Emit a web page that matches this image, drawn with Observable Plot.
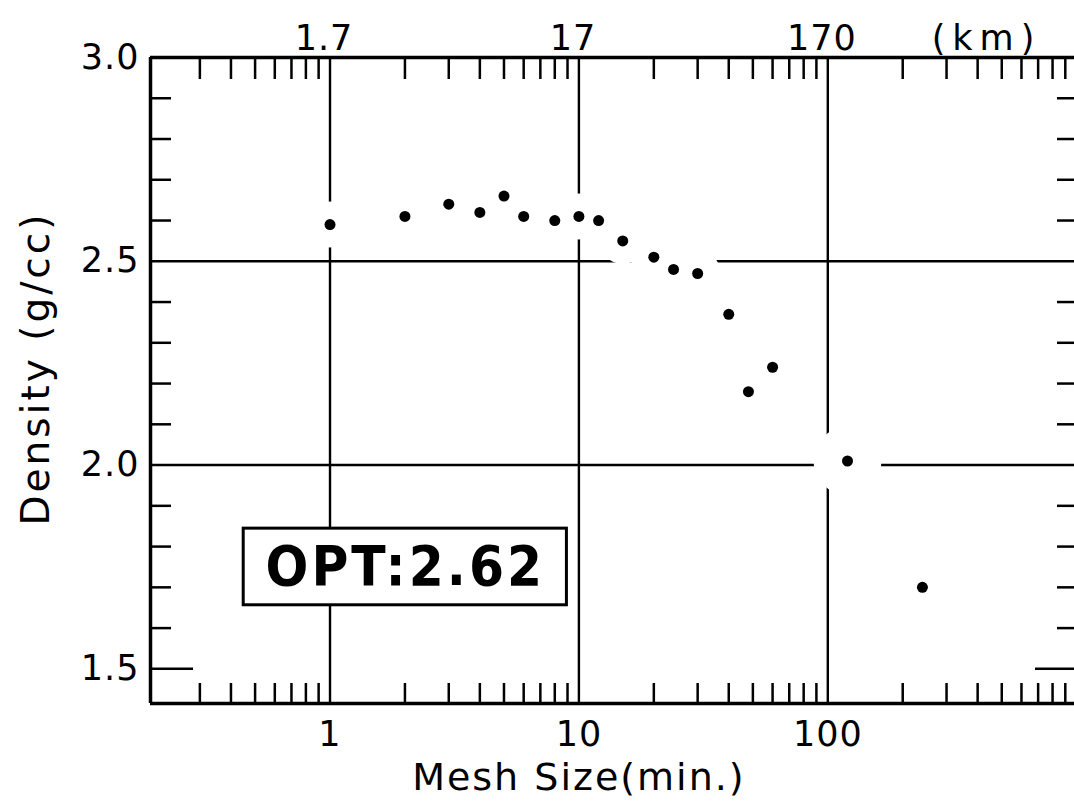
<!DOCTYPE html>
<html>
<head>
<meta charset="utf-8">
<script src="https://cdn.jsdelivr.net/npm/d3@7"></script>
<script src="https://cdn.jsdelivr.net/npm/@observablehq/plot@0.6"></script>
<style>
  html, body { margin: 0; padding: 0; background: #fff; overflow: hidden; }
  #chart svg { display: block; }
</style>
</head>
<body>
<div id="chart"></div>
<script>
// Mesh size (minutes) and the density estimated at that mesh size (g/cc)
const meshMinutes = [1, 2, 3, 4, 5, 6, 8, 10, 12, 15, 20, 24, 30, 40, 48, 60, 120, 240];
const density = [2.59, 2.61, 2.64, 2.62, 2.66, 2.61, 2.60, 2.61, 2.60, 2.55, 2.51, 2.48, 2.47, 2.37, 2.18, 2.24, 2.01, 1.70];

// Axis ticks and labels
const minuteTicks = [1, 10, 100];
const minuteLabels = ["1", "10", "100"];
const kmLabels = ["1.7", "17", "170"];
const kmUnit = "(km)";
const minorMinuteTicks = [0.3, 0.4, 0.5, 0.6, 0.7, 0.8, 0.9,
  2, 3, 4, 5, 6, 7, 8, 9,
  20, 30, 40, 50, 60, 70, 80, 90,
  200, 300, 400, 500, 600, 700, 800, 900];
const densityLabels = [1.5, 2.0, 2.5, 3.0];
const densityGrid = [2.0, 2.5];
const minorDensityTicks = [1.6, 1.7, 1.8, 1.9, 2.1, 2.2, 2.3, 2.4, 2.6, 2.7, 2.8, 2.9];
const optimumDensity = 2.62;

const xTitle = "Mesh Size(min.)";
const yTitle = "Density (g/cc)";
const optText = `OPT:${optimumDensity.toFixed(2)}`;

const points = meshMinutes.map((m, i) => ({mesh: m, density: density[i]}));

const W = 1074, H = 803;
const mTop = 57, mBottom = 100, mLeft = 150, mRight = 0;
const innerW = W - mLeft - mRight, innerH = H - mTop - mBottom;
const xDomain = [0.19, 980];
const yDomain = [1.415, 3.0];
const font = "DejaVu Sans";
const ink = "#000";

// box holding the optimum density annotation, in data coordinates
const optBox = [{x1: 0.45, x2: 8.95, y1: 1.656, y2: 1.844}];

const chart = Plot.plot({
  width: W,
  height: H,
  marginTop: mTop,
  marginBottom: mBottom,
  marginLeft: mLeft,
  marginRight: mRight,
  style: {background: "#fff", color: ink, fontFamily: font},
  x: {type: "log", domain: xDomain, axis: null},
  y: {domain: yDomain, axis: null},
  r: {type: "identity"},
  marks: [
    // grid lines at the labelled decades and densities
    Plot.ruleX(minuteTicks, {x: d => d, stroke: ink, strokeWidth: 2.4}),
    Plot.ruleY(densityGrid, {y: d => d, stroke: ink, strokeWidth: 2.4}),
    // white clearing around each point so the grid stops short of it
    Plot.dot(points, {x: "mesh", y: "density", r: d => (d.mesh >= 100 ? 34 : 23), fill: "#fff", stroke: "none"}),
    // inward minor ticks: bottom, top
    Plot.tickX(minorMinuteTicks, {x: d => d, insetTop: innerH - 20, stroke: ink, strokeWidth: 2.5}),
    Plot.tickX(minorMinuteTicks, {x: d => d, insetBottom: innerH - 22, stroke: ink, strokeWidth: 2.5}),
    // inward density ticks: left, right
    Plot.tickY(minorDensityTicks, {y: d => d, insetRight: innerW - 21, stroke: ink, strokeWidth: 2.5}),
    Plot.tickY(minorDensityTicks, {y: d => d, insetLeft: innerW - 17, stroke: ink, strokeWidth: 2.5}),
    Plot.tickY([1.5], {y: d => d, insetRight: innerW - 43, stroke: ink, strokeWidth: 2.5}),
    Plot.tickY([1.5], {y: d => d, insetLeft: innerW - 39, stroke: ink, strokeWidth: 2.5}),
    // frame: left, top, bottom
    Plot.ruleX([xDomain[0]], {x: d => d, stroke: ink, strokeWidth: 3.5}),
    Plot.ruleY([yDomain[1]], {y: d => d, stroke: ink, strokeWidth: 3.5}),
    Plot.ruleY([yDomain[0]], {y: d => d, stroke: ink, strokeWidth: 3.5}),
    // optimum density annotation
    Plot.rect(optBox, {x1: "x1", x2: "x2", y1: "y1", y2: "y2", fill: "#fff", stroke: ink, strokeWidth: 3}),
    Plot.text([optText], {
      x: Math.sqrt(optBox[0].x1 * optBox[0].x2), y: (optBox[0].y1 + optBox[0].y2) / 2,
      text: d => d, fontFamily: "'DejaVu Sans Condensed', sans-serif",
      fontWeight: "bold", fontSize: 56, dx: 0,
      fill: ink, textAnchor: "middle"
    }),
    // data points
    Plot.dot(points, {x: "mesh", y: "density", r: 5.5, fill: ink}),
    // bottom tick labels (minutes)
    Plot.text(minuteTicks, {
      x: d => d, frameAnchor: "bottom", dy: 18, lineAnchor: "top",
      text: (d, i) => minuteLabels[i], fontSize: 35, fontFamily: font, fill: ink
    }),
    // top tick labels (km)
    Plot.text(minuteTicks, {
      x: d => d, frameAnchor: "top", dy: -8, dx: -6, lineAnchor: "bottom",
      text: (d, i) => kmLabels[i], fontSize: 35, fontFamily: font, fill: ink
    }),
    Plot.text([kmUnit], {
      frameAnchor: "top-right", dx: -88, dy: -8, lineAnchor: "bottom", textAnchor: "middle",
      text: d => d, fontSize: 35, fontFamily: font, fill: ink
    }),
    // left tick labels (density)
    Plot.text(densityLabels, {
      y: d => d, frameAnchor: "left", dx: -11, textAnchor: "end",
      text: d => d.toFixed(1), fontSize: 35, fontFamily: font, fill: ink
    }),
    // axis titles
    Plot.text([xTitle], {
      x: 10, frameAnchor: "bottom", dy: 60, lineAnchor: "top",
      text: d => d, fontSize: 38, fontFamily: font, fill: ink
    }),
    Plot.text([yTitle], {
      frameAnchor: "left", dx: -114, dy: -12, rotate: -90, textAnchor: "middle",
      text: d => d, fontSize: 39, fontFamily: font, fill: ink
    })
  ]
});

// the lettering is widely spaced; titles, units and the annotation more so
const spacingFor = {[optText]: 3, [xTitle]: 2, [yTitle]: 3, [kmUnit]: 7};
d3.select(chart).selectAll("text").each(function () {
  const spacing = spacingFor[this.textContent] ?? 1;
  this.style.letterSpacing = spacing + "px";
});

document.getElementById("chart").appendChild(chart);
</script>
</body>
</html>
